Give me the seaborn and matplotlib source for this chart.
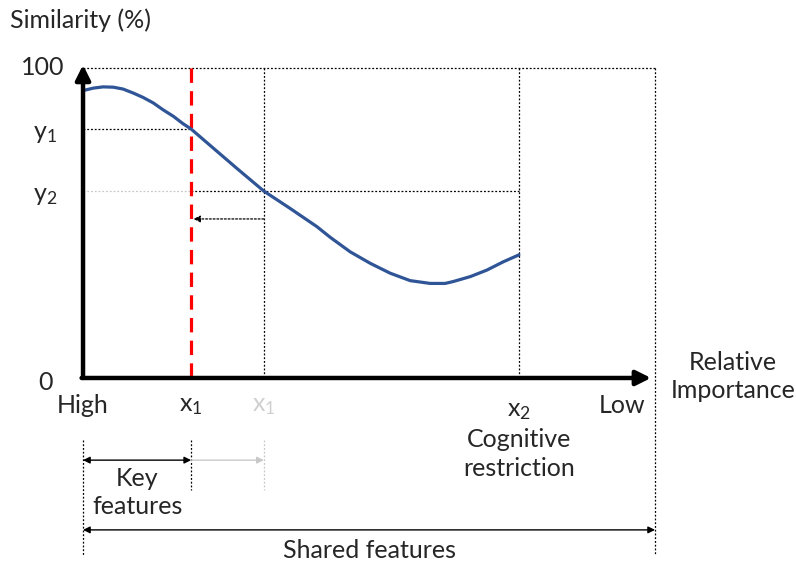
import matplotlib
matplotlib.use("Agg")
import matplotlib.pyplot as plt
import seaborn as sns

# curve (relative importance vs similarity %)
curve_x = [0.0, 1.8, 3.5, 5.3, 7.0, 8.8, 10.5, 12.3, 14.0, 15.8, 17.5, 18.9,
           22.8, 26.9, 31.6, 36.2, 40.9, 43.2, 46.7, 50.2, 53.7, 57.2, 60.7,
           63.3, 64.7, 67.7, 70.6, 73.5, 76.2]
curve_y = [92.7, 93.5, 93.9, 93.8, 93.2, 91.9, 90.5, 88.7, 86.5, 84.4, 82.0, 80.3,
           74.1, 67.6, 60.3, 54.7, 48.8, 45.4, 40.7, 37.0, 33.8, 31.4, 30.5,
           30.5, 31.1, 32.7, 34.8, 37.5, 39.7]

# reference marks
x1 = 18.9
x1_shift = 31.6
x2 = 76.2
y1 = 80.3
y2 = 60.3
arrow_y = 51.3

y_labels = ["100", "y$_1$", "y$_2$", "0"]
y_label_pos = [100, y1, y2, 0]

sns.set_style("white")
plt.rcParams["font.family"] = ["Lato", "DejaVu Sans"]
plt.rcParams["mathtext.default"] = "regular"

fig = plt.figure(figsize=(7.96, 5.65), dpi=100)
ax = fig.add_axes([0.1043, 0.331, 0.7186, 0.5487])
ax.set_xlim(0, 100)
ax.set_ylim(0, 100)
ax.set_axis_off()

blue = "#2F5597"
dot = (0, (1.5, 1.5))
fs = 18
ls_gap = 1.27

# dotted guide lines
ax.plot([0, 100], [100, 100], color="black", lw=0.9, ls=dot, clip_on=False)
ax.plot([100, 100], [100, -57], color="black", lw=0.9, ls=dot, clip_on=False)
ax.plot([x1_shift, x1_shift], [100, 0], color="black", lw=0.9, ls=dot, clip_on=False)
ax.plot([x2, x2], [100, 0], color="black", lw=0.9, ls=dot, clip_on=False)
ax.plot([0, x1], [y1, y1], color="black", lw=0.9, ls=dot, clip_on=False)
ax.plot([0, x1], [y2, y2], color="#C8C8C8", lw=0.9, ls=dot, clip_on=False)
ax.plot([x1, x2], [y2, y2], color="black", lw=0.9, ls=dot, clip_on=False)
ax.annotate("", xy=(x1 + 0.4, arrow_y), xytext=(x1_shift, arrow_y),
            arrowprops=dict(arrowstyle="-|>", color="black", lw=0.9,
                            linestyle=dot, mutation_scale=10, shrinkA=0, shrinkB=0),
            annotation_clip=False)

# red dashed line at x1
ax.plot([x1, x1], [100, 0], color="#FF0000", lw=2.3, ls=(0, (4.5, 2.6)), clip_on=False)

# curve
sns.lineplot(x=curve_x, y=curve_y, ax=ax, color=blue, linewidth=2.3)
for ln in ax.lines[-1:]:
    ln.set_solid_joinstyle("round")
    ln.set_solid_capstyle("round")

# axes arrows
ax.annotate("", xy=(0, 101), xytext=(0, 0),
            arrowprops=dict(arrowstyle="-|>", color="black", lw=3.2,
                            mutation_scale=22, shrinkA=0, shrinkB=0),
            annotation_clip=False)
ax.annotate("", xy=(99.3, 0), xytext=(-0.25, 0),
            arrowprops=dict(arrowstyle="-|>", color="black", lw=3.2,
                            mutation_scale=22, shrinkA=0, shrinkB=0),
            annotation_clip=False)

# y labels
ax.text(-12.8, 115.5, "Similarity (%)", fontsize=fs, ha="left", va="center")
for lab, pos in zip(y_labels, y_label_pos):
    if lab == "100":
        ax.text(-3.3, pos, lab, fontsize=fs, ha="right", va="center")
    else:
        ax.text(-6.6, pos - 1.5, lab, fontsize=fs, ha="center", va="center")

# x labels
ax.text(0, -9, "High", fontsize=fs, ha="center", va="center")
ax.text(x1, -9, "x$_1$", fontsize=fs, ha="center", va="center")
ax.text(x1_shift, -9, "x$_1$", fontsize=fs, ha="center", va="center", color="#D0D0D0")
ax.text(x2, -10.5, "x$_2$", fontsize=fs, ha="center", va="center")
ax.text(x2, -24.5, "Cognitive\nrestriction", fontsize=fs, ha="center", va="center",
        linespacing=ls_gap)
ax.text(94.2, -9, "Low", fontsize=fs, ha="center", va="center")
ax.text(113.6, 0.5, "Relative\nImportance", fontsize=fs, ha="center", va="center",
        linespacing=ls_gap)

# bracket region below the axis
ax.plot([0, 0], [-20, -57], color="black", lw=0.9, ls=dot, clip_on=False)
ax.plot([x1, x1], [-20, -36], color="black", lw=0.9, ls=dot, clip_on=False)
ax.plot([x1_shift, x1_shift], [-20, -36], color="#C8C8C8", lw=0.9, ls=dot, clip_on=False)
ax.annotate("", xy=(0, -26.5), xytext=(x1, -26.5),
            arrowprops=dict(arrowstyle="<|-|>", color="black", lw=1.0,
                            mutation_scale=10, shrinkA=0, shrinkB=0),
            annotation_clip=False)
ax.annotate("", xy=(x1_shift, -26.5), xytext=(x1, -26.5),
            arrowprops=dict(arrowstyle="-|>", color="#C8C8C8", lw=1.0,
                            mutation_scale=10, shrinkA=0, shrinkB=0),
            annotation_clip=False)
ax.text(x1 / 2, -37, "Key\nfeatures", fontsize=fs, ha="center", va="center",
        linespacing=ls_gap)
ax.annotate("", xy=(0, -49), xytext=(100, -49),
            arrowprops=dict(arrowstyle="<|-|>", color="black", lw=1.0,
                            mutation_scale=10, shrinkA=0, shrinkB=0),
            annotation_clip=False)
ax.text(50, -55.5, "Shared features", fontsize=fs, ha="center", va="center")

fig.savefig("out.png", dpi=100)
